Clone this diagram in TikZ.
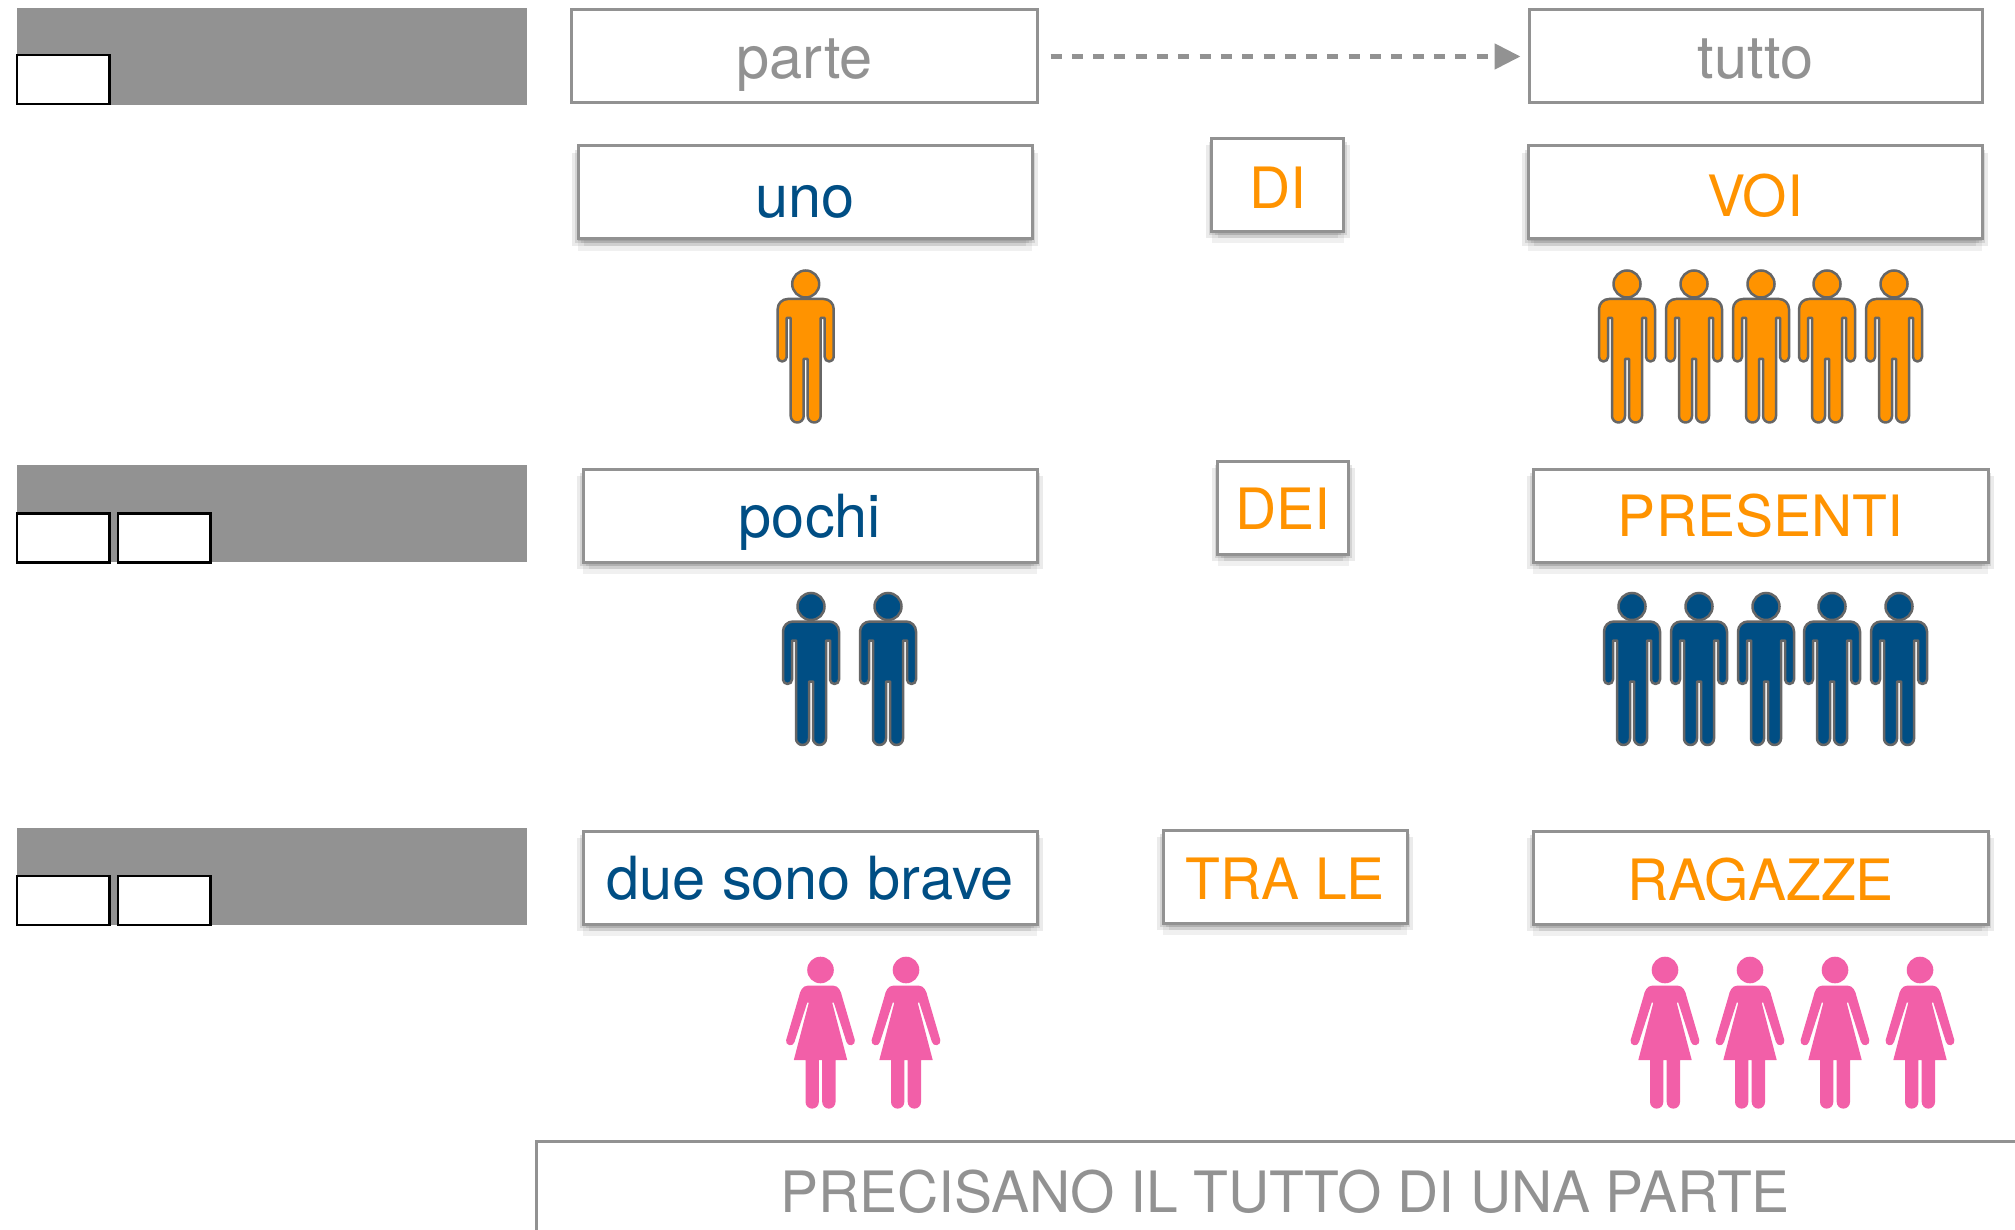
\documentclass[tikz,border=0pt]{standalone}
\usepackage{fontspec}
\setmainfont{TeX Gyre Heros}
\usetikzlibrary{arrows.meta, positioning, shadows}

\definecolor{wordgray}{HTML}{929292}
\definecolor{wordblue}{HTML}{004E84}
\definecolor{wordorange}{HTML}{FF9300}
\definecolor{girlpink}{HTML}{F25FA8}

\tikzset{
  pics/manfig/.style={code={
    \draw[line width=2.5pt, draw=black!60, fill=#1] (0,0) circle (13.5);
    \draw[line width=2.5pt, draw=black!60, fill=#1, line join=round]
      (0,15) -- (18,15) arc (-90:0:10) -- (28,73) arc (0:180:4.5) -- (19,34) -- (15,34)
      -- (15,132) arc (0:180:6.5) -- (2,75) -- (-2,75) -- (-2,132) arc (0:180:6.5)
      -- (-15,34) -- (-19,34) -- (-19,73) arc (0:180:4.5) -- (-28,25) arc (180:270:10) -- cycle;
  }},
  pics/girlfig/.style={code={
    \fill[girlpink] (0,0) circle (13.3);
    \fill[girlpink]
      (-13,15.7) -- (13,15.7) .. controls (18,15.7) and (20.5,21) .. (21.7,27) -- (34.3,70)
      arc (-13:167:4.3) -- (13.3,32.7) -- (11.7,32.7) -- (26.7,90) -- (15,90) -- (15,132)
      arc (0:180:6.65) -- (1.7,90) -- (-1.7,90) -- (-1.7,132) arc (0:180:6.65) -- (-15,90)
      -- (-26.7,90) -- (-11.7,32.7) -- (-13.3,32.7) -- (-26,72) arc (13:193:4.3)
      -- (-21.7,27) .. controls (-20.5,21) and (-18,15.7) .. (-13,15.7) -- cycle;
  }}
}

\begin{document}
\begin{tikzpicture}[x=1pt, y=-1pt, >=latex]
  \tikzstyle{wordnode}=[draw=wordgray, line width=3pt, fill=white, minimum height=93pt, inner sep=0pt,
    text height=45pt, text depth=0pt, font=\fontsize{59.5}{72}\selectfont]
  \tikzstyle{capsnode}=[font=\fontsize{57}{72}\selectfont, text=wordorange]
  \tikzstyle{softshadow}=[
    drop shadow={shadow xshift=0pt, shadow yshift=-12pt, opacity=0.12},
    drop shadow={shadow xshift=-6pt, shadow yshift=-7pt, opacity=0.16},
    drop shadow={shadow xshift=6pt, shadow yshift=-7pt, opacity=0.16},
    drop shadow={shadow xshift=-3pt, shadow yshift=-4pt, opacity=0.22},
    drop shadow={shadow xshift=3pt, shadow yshift=-4pt, opacity=0.22},
    drop shadow={shadow xshift=0pt, shadow yshift=-2pt, opacity=0.3}]
  \tikzstyle{shadenode}=[wordnode, softshadow]
  \tikzstyle{barnode}=[fill=wordgray, minimum width=510pt, minimum height=97pt, inner sep=0pt, anchor=north west]
  \tikzstyle{slotnode}=[draw=black, line width=2.5pt, fill=white, minimum width=92.5pt, minimum height=49pt, inner sep=0pt, anchor=north west]

  \useasboundingbox (0,0) rectangle (2015,1230);
  \clip (0,0) rectangle (2015,1230);

  \node[barnode] (bar1) at (16.5,7.5) {};
  \node[barnode] (bar2) at (17,465) {};
  \node[barnode] (bar3) at (17,827.5) {};
  \node[slotnode] (slot1) at (15.5,54) {};
  \node[slotnode] (slot2) at (15.5,512) {};
  \node[slotnode, right=6pt of slot2] (slot3) {};
  \node[slotnode] (slot4) at (15.5,874.5) {};
  \node[slotnode, right=6pt of slot4] (slot5) {};

  \node[wordnode, minimum width=466pt, text=wordgray] (parte) at (804.5,56.5) {parte};
  \node[wordnode, minimum width=453pt, text=wordgray] (tutto) at (1755.5,56.5) {tutto};
  \draw[dash pattern=on 11pt off 10.3pt, line width=5pt, draw=wordgray, shorten <=11.5pt, shorten >=7pt,
    -{Triangle[length=26pt, width=25pt]}] (parte) -- (tutto);

  \node[shadenode, minimum width=454pt, text=wordblue, text height=50pt] (uno) at (805,192.5) {uno};
  \node[shadenode, capsnode, minimum width=132pt, text height=48pt] (di) at (1277.5,185) {DI};
  \node[shadenode, capsnode, minimum width=454pt, text height=49pt] (voi) at (1755,192.5) {VOI};

  \node[shadenode, minimum width=454pt, text=wordblue, text height=43pt] (pochi) at (810,515.5) {pochi};
  \node[shadenode, capsnode, minimum width=131pt, text height=43pt] (dei) at (1283,507.5) {DEI};
  \node[shadenode, capsnode, minimum width=455pt, text height=41pt] (presenti) at (1760.5,515.5) {PRESENTI};

  \node[shadenode, minimum width=454pt, text=wordblue, text height=43pt] (brave) at (810,877.5) {due sono brave};
  \node[shadenode, capsnode, minimum width=244pt, text height=45pt] (trale) at (1285,876.5) {TRA LE};
  \node[shadenode, capsnode, minimum width=455pt, text height=45pt] (ragazze) at (1760.5,877.5) {RAGAZZE};

  \node[wordnode, capsnode, minimum width=1498pt, minimum height=100pt, text=wordgray, text height=43pt] (precisano) at (1285,1191) {PRECISANO IL TUTTO DI UNA PARTE};

  \pic at (805.7,284) {manfig=wordorange};
  \foreach \x in {1627,1694,1761,1827,1894}
    \pic at (\x,284) {manfig=wordorange};
  \foreach \x in {811,888,1632,1699,1766,1832,1899}
    \pic at (\x,606.5) {manfig=wordblue};
  \foreach \x in {820.5,906,1665,1750,1835,1920}
    \pic at (\x,970) {girlfig};
\end{tikzpicture}
\end{document}
